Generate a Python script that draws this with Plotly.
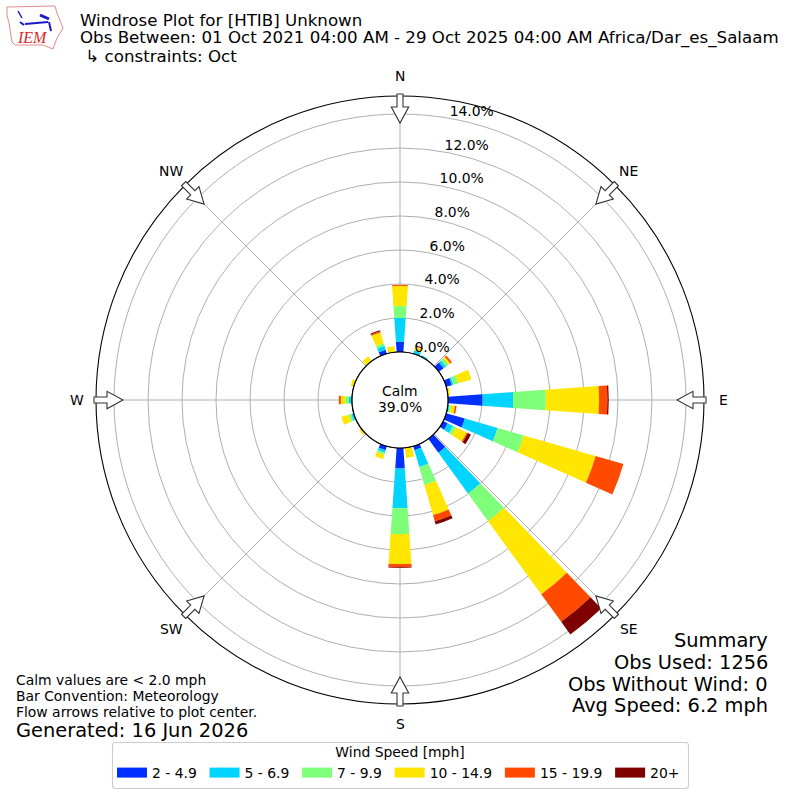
import math
import plotly.graph_objects as go

directions = list(range(0, 360, 10))
speed_bins = ["2 - 4.9", "5 - 6.9", "7 - 9.9", "10 - 14.9", "15 - 19.9", "20+"]
bin_colors = ["#0030ff", "#00d4ff", "#7dff7a", "#ffe600", "#ff4a00", "#7f0000"]

s_2_5 = [.6, 0, 0, 0, 0, .35, 0, .35, 0, 2.04, 0, 1.15, .3, 0, 1.02, 0, .25, 0,
         1.2, 0, .25, 0, 0, 0, 0, .05, 0, 0, 0, 0, 0, 0, 0, 0, .25, 0]
s_5_7 = [1.41, 0, .2, .1, 0, .18, 0, .1, 0, 1.8, .1, 2.0, .35, 0, 2.96, 0, 1.03, 0,
         2.35, 0, .15, 0, 0, 0, 0, .12, 0, .18, 0, 0, 0, 0, 0, 0, .25, 0]
s_7_10 = [.7, 0, .05, 0, 0, .18, 0, .3, 0, 1.92, .1, 1.6, .2, 0, 2.0, 0, 1.1, 0,
          1.52, 0, .12, 0, 0, 0, 0, .15, 0, .2, 0, 0, 0, 0, 0, 0, .15, 0]
s_10_15 = [1.18, 0, .22, 0, 0, .12, 0, .8, .15, 3.13, .22, 4.4, .7, 0, 5.33, 0, 1.84, .6,
           1.76, 0, .28, 0, 0, .15, 0, .45, 0, .28, 0, .2, 0, 0, .35, 0, .66, .36]
s_15_20 = [.06, 0, 0, 0, 0, .12, 0, 0, 0, .49, .1, 1.7, .07, 0, 2.0, 0, .37, 0,
           .18, 0, 0, 0, 0, 0, 0, 0, 0, .12, 0, 0, 0, 0, 0, 0, .07, 0]
s_20 = [0, 0, .05, 0, 0, 0, 0, 0, 0, .08, 0, 0, .2, 0, .91, 0, .2, 0,
        .05, 0, 0, 0, 0, 0, 0, 0, 0, 0, 0, 0, 0, 0, 0, 0, .07, 0]
series = [s_2_5, s_5_7, s_7_10, s_10_15, s_15_20, s_20]

radial_ticks = [0, 2, 4, 6, 8, 10, 12, 14]
compass_angles = [0, 45, 90, 135, 180, 225, 270, 315]
compass_labels = ["N", "NE", "E", "SE", "S", "SW", "W", "NW"]

FONT = "DejaVu Sans"
SIZE = 800.0


def px(x):
    return x / SIZE


def py(y):
    return 1 - y / SIZE


fig = go.Figure()
for name, color, values in zip(speed_bins, bin_colors, series):
    fig.add_trace(go.Barpolar(theta=directions, r=values, width=8, name=name,
                              marker=dict(color=color, line=dict(width=0)),
                              showlegend=False, hoverinfo="skip"))
for name, color in zip(speed_bins, bin_colors):
    fig.add_trace(go.Scatterpolar(r=[None], theta=[None], mode="lines", name=name + "\u2009",
                                  line=dict(color=color, width=10)))

shapes = []
# compass arrows
arrow = [(-3, 306), (3, 306), (3, 293), (8.7, 293), (0, 277), (-8.7, 293), (-3, 293)]
for a in compass_angles:
    t = math.radians(a)
    pts = []
    for u, r in arrow:
        x = 400 + r * math.sin(t) + u * math.cos(t)
        y = 400 - r * math.cos(t) + u * math.sin(t)
        pts.append(f"{px(x):.5f},{py(y):.5f}")
    shapes.append(dict(type="path", xref="paper", yref="paper",
                       path="M" + " L".join(pts) + " Z",
                       fillcolor="white", line=dict(color="#333333", width=1.1)))
# hole outline
shapes.append(dict(type="circle", xref="paper", yref="paper",
                   x0=px(352), x1=px(448), y0=py(448), y1=py(352),
                   line=dict(color="black", width=1.2), fillcolor="white"))
# legend frame with rounded corners
L, R, T, B, C = 112.5, 688.5, 742.5, 788.5, 3
frame = (f"M{px(L + C):.5f},{py(T):.5f} L{px(R - C):.5f},{py(T):.5f} "
         f"Q{px(R):.5f},{py(T):.5f} {px(R):.5f},{py(T + C):.5f} L{px(R):.5f},{py(B - C):.5f} "
         f"Q{px(R):.5f},{py(B):.5f} {px(R - C):.5f},{py(B):.5f} L{px(L + C):.5f},{py(B):.5f} "
         f"Q{px(L):.5f},{py(B):.5f} {px(L):.5f},{py(B - C):.5f} L{px(L):.5f},{py(T + C):.5f} "
         f"Q{px(L):.5f},{py(T):.5f} {px(L + C):.5f},{py(T):.5f} Z")
shapes.append(dict(type="path", xref="paper", yref="paper", path=frame,
                   line=dict(color="#cccccc", width=1.1), fillcolor="white"))
# logo
logo = [(7, 7), (55, 6), (57, 13), (63, 28), (57, 38), (53, 49), (43, 45), (15, 45), (12, 42), (9, 23), (7, 15)]
shapes.append(dict(type="path", xref="paper", yref="paper",
                   path="M" + " L".join(f"{px(x):.5f},{py(y):.5f}" for x, y in logo) + " Z",
                   line=dict(color="#e58a8a", width=1), fillcolor="white"))
for seg, w in [([(25, 24), (48, 22)], 2), ([(40, 15), (49, 19)], 3), ([(18, 11), (22, 18)], 1.5),
               ([(49, 22), (51, 31)], 2), ([(20, 22), (24, 25)], 2)]:
    shapes.append(dict(type="path", xref="paper", yref="paper",
                       path="M" + " L".join(f"{px(x):.5f},{py(y):.5f}" for x, y in seg),
                       line=dict(color="#1a1acc", width=w)))


def note(x, y, text, size, anchor="left", color="black", family=FONT):
    shift = {"left": -2, "right": 2, "center": 0}[anchor]
    return dict(xref="paper", yref="paper", x=px(x + shift), y=py(y), text=text, showarrow=False,
                xanchor=anchor, yanchor="middle", align=anchor,
                font=dict(family=family, size=size, color=color))


annotations = [
    note(80, 20, "Windrose Plot for [HTIB] Unknown", 16.67),
    note(80, 38, "Obs Between: 01 Oct 2021 04:00 AM - 29 Oct 2025 04:00 AM Africa/Dar_es_Salaam", 16.67),
    note(80, 56, " ↳ constraints: Oct", 16.67),
    note(400, 391, "Calm", 13.9, "center"),
    note(400, 407, "39.0%", 13.9, "center"),
    note(768, 640, "Summary", 19.4, "right"),
    note(768, 662, "Obs Used: 1256", 19.4, "right"),
    note(768, 684, "Obs Without Wind: 0", 19.4, "right"),
    note(768, 705, "Avg Speed: 6.2 mph", 19.4, "right"),
    note(16, 680, "Calm values are &lt; 2.0 mph", 13.9),
    note(16, 696, "Bar Convention: Meteorology", 13.9),
    note(16, 712, "Flow arrows relative to plot center.", 13.9),
    note(16, 730, "Generated: 16 Jun 2026", 19.4),
    note(17, 38, "IEM", 16, color="#d62728", family="Liberation Serif"),
]
annotations[-1]["font"]["style"] = "italic"
for a, label in zip(compass_angles, compass_labels):
    t = math.radians(a)
    annotations.append(note(400 + 323.5 * math.sin(t), 400 - 323.5 * math.cos(t), label, 13.9, "center"))

fig.update_layout(
    width=800, height=800, autosize=False, margin=dict(l=0, r=0, t=0, b=0),
    paper_bgcolor="white", font=dict(family=FONT, size=13.9, color="black"),
    shapes=shapes, annotations=annotations,
    polar=dict(
        domain=dict(x=[96 / SIZE, 704 / SIZE], y=[96 / SIZE, 704 / SIZE]),
        hole=48 / 304, barmode="stack", bgcolor="white",
        radialaxis=dict(range=[0, 15.06], tickmode="array", tickvals=radial_ticks,
                        ticktext=[f"{v:.1f}%<br> " for v in radial_ticks], angle=81.5, tickangle=81.5,
                        side="clockwise", showline=False, ticks="", gridcolor="#b0b0b0",
                        gridwidth=1.1, tickfont=dict(size=13.9)),
        angularaxis=dict(rotation=90, direction="clockwise", tickmode="array",
                         tickvals=compass_angles, showticklabels=False,
                         gridcolor="#b0b0b0", gridwidth=1.1, linecolor="black", linewidth=1.1,
                         ticks=""),
    ),
    legend=dict(orientation="h", x=0.5, xanchor="center", y=py(739), yanchor="top",
                borderwidth=0, bgcolor="rgba(0,0,0,0)",
                itemwidth=30, font=dict(size=13.9),
                title=dict(text="Wind Speed [mph]", side="top center", font=dict(size=13.9))),
)
fig.write_html("out.html", config=dict(displayModeBar=False),
               post_script="document.body.style.margin='0';")
